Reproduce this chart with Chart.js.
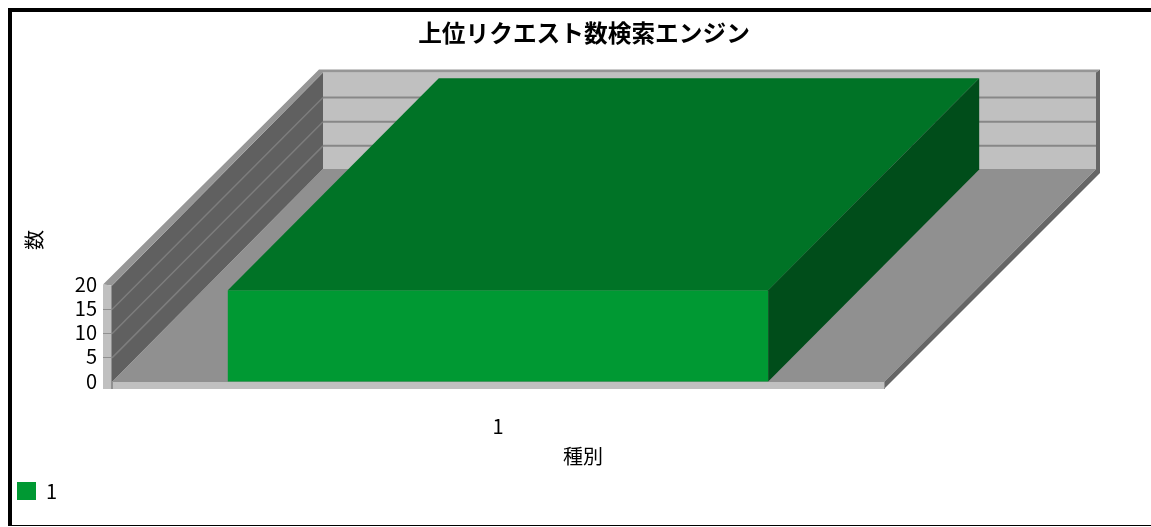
<!DOCTYPE html>
<html lang="ja">
<head>
<meta charset="utf-8">
<title>上位リクエスト数検索エンジン</title>
<script src="https://cdn.jsdelivr.net/npm/chart.js@4/dist/chart.umd.min.js"></script>
<style>
  html, body { margin: 0; padding: 0; background: #fff; overflow: hidden; }
  #frame {
    position: absolute; left: 8px; top: 8px; width: 1200px; height: 513px;
    border-left: 4px solid #000; border-top: 4px solid #000; border-bottom: 1px solid #000;
  }
  #chart { position: absolute; left: 0; top: 0; }
</style>
</head>
<body>
<div id="frame"></div>
<canvas id="chart" width="1151" height="527"></canvas>
<script>
const chartTitle = "上位リクエスト数検索エンジン";
const xTitle = "種別";
const yTitle = "数";
const categories = ["1"];
const seriesName = "1";
const seriesValues = [19];
const yTickStep = 5;
const yMax = 20;

const font = '"Noto Sans CJK JP", sans-serif';
const depthX = 211;
const depthY = 212;

function poly(ctx, color, pts) {
  ctx.fillStyle = color;
  ctx.beginPath();
  pts.forEach((p, i) => i ? ctx.lineTo(p[0], p[1]) : ctx.moveTo(p[0], p[1]));
  ctx.closePath();
  ctx.fill();
}

// floor, walls and their gridlines, behind everything the library draws
const walls = {
  id: "walls",
  afterLayout(chart) {
    // title is centred on the whole picture, not only on the front plane
    chart.titleBlock.left = 7;
    chart.titleBlock.right = 1161;
  },
  beforeDraw(chart) {
    const ctx = chart.ctx;
    const { left, right } = chart.chartArea;
    const y = chart.scales.y;
    const top = y.getPixelForValue(yMax);
    const zero = y.getPixelForValue(0);
    const bx = left + depthX, bRight = right + depthX + 1, bTop = top - depthY - 1, bBottom = zero - depthY - 1;

    poly(ctx, "#c0c0c0", [[bx, bTop], [bRight, bTop], [bRight, bBottom], [bx, bBottom]]);
    poly(ctx, "#909090", [[left, zero], [bx, bBottom], [bRight, bBottom], [right, zero]]);
    poly(ctx, "#606060", [[left, top], [bx, bTop], [bx, bBottom], [left, zero]]);

    y.ticks.forEach(t => {
      if (t.value === 0 || t.value === yMax) return;
      const py = y.getPixelForValue(t.value);
      ctx.strokeStyle = "#7d7d7d";
      ctx.lineWidth = 1.5;
      ctx.beginPath();
      ctx.moveTo(left, py);
      ctx.lineTo(bx, py - depthY);
      ctx.stroke();
      ctx.strokeStyle = "#878787";
      ctx.lineWidth = 2;
      ctx.beginPath();
      ctx.moveTo(bx, py - depthY);
      ctx.lineTo(bRight, py - depthY);
      ctx.stroke();
    });

    // edges of the walls and floor
    poly(ctx, "#969696", [[left - 9, top - 1], [bx - 4, bTop - 3], [bRight + 4, bTop - 3], [bRight, bTop], [bx, bTop], [left, top]]);
    poly(ctx, "#666666", [[bRight, bTop], [bRight + 4, bTop - 3], [bRight + 4, bBottom + 4], [right, zero + 7], [right, zero], [bRight, bBottom]]);
    poly(ctx, "#c0c0c0", [[left - 9, top - 1], [left, top], [left, zero], [right, zero], [right, zero + 7], [left - 9, zero + 7]]);
    ctx.fillStyle = "#909090";
    ctx.fillRect(left - 1, top, 1, zero + 7 - top);
  },
  afterDatasetsDraw(chart) {
    const ctx = chart.ctx;
    chart.getDatasetMeta(0).data.forEach(bar => {
      const l = bar.x - bar.width / 2, r = bar.x + bar.width / 2;
      poly(ctx, "#007326", [[l, bar.y], [l + depthX, bar.y - depthY], [r + depthX, bar.y - depthY], [r, bar.y]]);
      poly(ctx, "#004d1a", [[r, bar.y], [r + depthX, bar.y - depthY], [r + depthX, bar.base - depthY], [r, bar.base]]);
    });
  },
  afterDraw(chart) {
    const ctx = chart.ctx;
    ctx.save();
    ctx.fillStyle = "#000";
    ctx.font = "20px " + font;
    ctx.textAlign = "center";
    ctx.textBaseline = "middle";
    ctx.fillText(xTitle, 583, 456);
    ctx.translate(34, 240);
    ctx.rotate(-Math.PI / 2);
    ctx.fillText(yTitle, 0, 0);
    ctx.restore();
  }
};

new Chart(document.getElementById("chart"), {
  type: "bar",
  data: {
    labels: categories,
    datasets: [{
      label: seriesName,
      data: seriesValues,
      backgroundColor: "#009933",
      barPercentage: 0.7,
      categoryPercentage: 1
    }]
  },
  plugins: [walls],
  options: {
    responsive: false,
    animation: false,
    layout: { padding: { left: 7, right: 267, top: 0, bottom: 16 } },
    plugins: {
      tooltip: { enabled: false },
      title: {
        display: true,
        text: chartTitle,
        color: "#000",
        font: { family: font, size: 23.7, weight: "bold" },
        padding: { top: 19, bottom: 238 }
      },
      legend: {
        position: "bottom",
        align: "start",
        labels: {
          boxWidth: 19,
          boxHeight: 18,
          color: "#000",
          font: { family: font, size: 20 }
        }
      }
    },
    scales: {
      x: {
        afterFit(s) { s.height = 89; },
        border: { display: false },
        grid: { drawOnChartArea: false, tickLength: 7, color: "#909090" },
        ticks: { color: "#000", padding: 25, maxRotation: 0, font: { family: font, size: 20 } }
      },
      y: {
        min: 0,
        max: yMax,
        afterFit(s) { s.width = 105; },
        border: { display: false },
        grid: {
          drawOnChartArea: false,
          tickLength: 9,
          color: c => (c.tick.value === 0 || c.tick.value === yMax) ? "transparent" : "#909090"
        },
        ticks: { stepSize: yTickStep, autoSkip: false, labelOffset: -1, color: "#000", padding: 6, font: { family: font, size: 20 } }
      }
    }
  }
});
</script>
</body>
</html>
